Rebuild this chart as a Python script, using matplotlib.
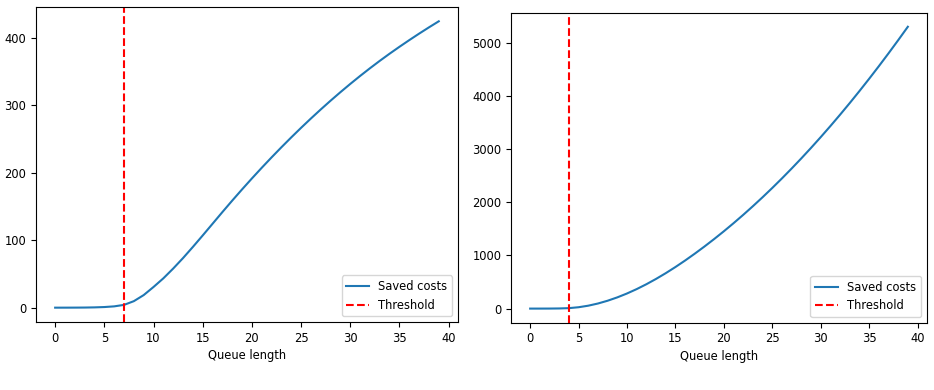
import matplotlib
matplotlib.use("Agg")
import matplotlib.pyplot as plt

queue_length = list(range(40))

saved_costs_left = [0, 0.02, 0.07, 0.17, 0.42, 0.92, 1.92, 4.12, 9.62, 18.62,
                    30.62, 43.42, 57.92, 73.42, 89.92, 106.92, 124.22, 141.52, 158.52, 175.12,
                    191.32, 207.12, 222.52, 237.52, 252.12, 266.32, 280.12, 293.52, 306.52, 319.12,
                    331.32, 343.12, 354.52, 365.52, 376.12, 386.32, 396.22, 405.82, 415.12, 424.12]
threshold_left = 7

saved_costs_right = [0, 0.1, 0.6, 2.6, 8.6, 25.6, 54.6, 95.6, 148.1, 211.1,
                     284.1, 366.6, 458.1, 558.1, 666.1, 781.6, 904.1, 1033.1, 1167.8, 1308.1,
                     1454.0, 1605.6, 1762.9, 1925.8, 2094.3, 2268.5, 2448.4, 2633.9, 2825.0, 3021.8,
                     3224.3, 3432.4, 3646.1, 3865.5, 4090.6, 4321.3, 4557.6, 4799.6, 5047.3, 5300.6]
threshold_right = 4

plt.rcParams['font.size'] = 8.3

fig = plt.figure(figsize=(9.34, 3.9), dpi=100)
ax1 = fig.add_axes([0.0385, 0.1744, 0.4518, 0.8077])
ax2 = fig.add_axes([0.5474, 0.1726, 0.4448, 0.7949])

for ax, vals, thr in [(ax1, saved_costs_left, threshold_left),
                      (ax2, saved_costs_right, threshold_right)]:
    ax.plot(queue_length, vals, color='#1f77b4', lw=1.5, label='Saved costs')
    ax.axvline(thr, color='red', ls='--', lw=1.5, label='Threshold')
    ax.set_xlabel('Queue length', labelpad=3)
    ax.set_xticks(range(0, 41, 5))
    ax.legend(loc='lower right')

fig.savefig('out.png', dpi=100)
